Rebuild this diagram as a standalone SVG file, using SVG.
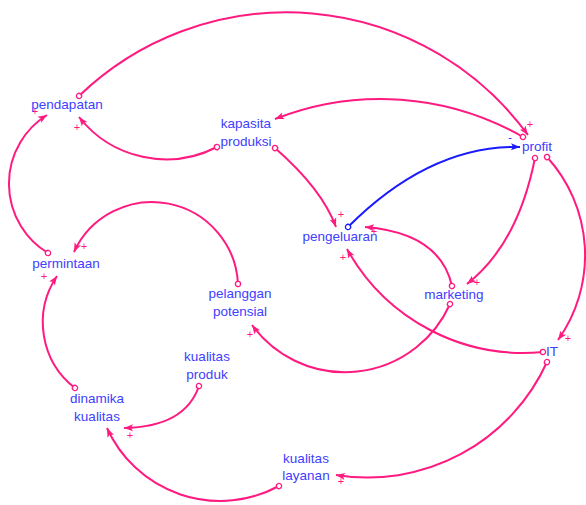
<svg xmlns="http://www.w3.org/2000/svg" width="586" height="505" viewBox="0 0 586 505">
<defs>
<marker id="ah" markerUnits="userSpaceOnUse" markerWidth="12" markerHeight="10" refX="9" refY="3.5" orient="auto" overflow="visible"><path d="M0,0 L9,3.5 L0,7 L2,3.5 Z" fill="#ff1a80"/></marker>
<marker id="ahb" markerUnits="userSpaceOnUse" markerWidth="12" markerHeight="10" refX="9" refY="3.5" orient="auto" overflow="visible"><path d="M0,0 L9,3.5 L0,7 L2,3.5 Z" fill="#1a1aff"/></marker>
<marker id="tc" markerUnits="userSpaceOnUse" markerWidth="8" markerHeight="8" refX="4" refY="4" orient="auto" overflow="visible"><circle cx="4" cy="4" r="2.6" fill="#fff" stroke="#ff1a80" stroke-width="1.3"/></marker>
<marker id="tcb" markerUnits="userSpaceOnUse" markerWidth="8" markerHeight="8" refX="4" refY="4" orient="auto" overflow="visible"><circle cx="4" cy="4" r="2.6" fill="#fff" stroke="#1a1aff" stroke-width="1.3"/></marker>
</defs>
<style>
.l{fill:none;stroke:#ff1a80;stroke-width:2;marker-start:url(#tc);marker-end:url(#ah)}
.b{fill:none;stroke:#1a1aff;stroke-width:2;marker-start:url(#tcb);marker-end:url(#ahb)}
.t{font-family:"Liberation Sans",Arial,sans-serif;font-size:13.5px;fill:#4040ff;text-anchor:middle}
.s{font-family:"Liberation Sans",Arial,sans-serif;font-size:11px;fill:#ff1a80;text-anchor:middle}
.sb{font-family:"Liberation Sans",Arial,sans-serif;font-size:11px;fill:#1a1aff;text-anchor:middle}
</style>
<g id="connectors">
<path class="l" d="M79,96 A299,299 0 0,1 528,135"/>
<path class="l" d="M523,137 A287,287 0 0,0 275,119"/>
<path class="l" d="M217,147 A111,111 0 0,1 79,117"/>
<path class="l" d="M48,253 A81,81 0 0,1 47,115"/>
<path class="l" d="M275,148 Q322,189 336,227"/>
<path class="b" d="M348,227 Q430,145 520,147"/>
<path class="l" d="M452,286 Q440,233 365,227"/>
<path class="l" d="M543,352 A202,202 0 0,1 347,249"/>
<path class="l" d="M535,158 Q518,244 467,284"/>
<path class="l" d="M547,157 A146,146 0 0,1 558,340"/>
<path class="l" d="M450,304 A115,115 0 0,1 252,325"/>
<path class="l" d="M238,284 A86,86 0 0,0 74,252"/>
<path class="l" d="M75,388 A83,83 0 0,1 57,276"/>
<path class="l" d="M199,386 Q185,427 124,428"/>
<path class="l" d="M279,486 A124,124 0 0,1 107,428"/>
<path class="l" d="M547,362 A197,197 0 0,1 336,475"/>
<text class="s" x="530" y="128">+</text>
<text class="sb" x="510" y="141">-</text>
<text class="s" x="77" y="131">+</text>
<text class="s" x="35" y="115">+</text>
<text class="s" x="341" y="218">+</text>
<text class="s" x="374" y="235">+</text>
<text class="s" x="343" y="261">+</text>
<text class="s" x="477" y="286">+</text>
<text class="s" x="568" y="342">+</text>
<text class="s" x="250" y="338">+</text>
<text class="s" x="84" y="250">+</text>
<text class="s" x="44" y="280">+</text>
<text class="s" x="130" y="439">+</text>
<text class="s" x="341" y="485">+</text>
</g>
<g id="pendapatan"><text class="t" x="67" y="109">pendapatan</text></g>
<g id="kapasita-produksi"><text class="t" x="246" y="128">kapasita</text><text class="t" x="246" y="146">produksi</text></g>
<g id="profit"><text class="t" x="537" y="151">profit</text></g>
<g id="pengeluaran"><text class="t" x="340" y="241">pengeluaran</text></g>
<g id="permintaan"><text class="t" x="66" y="268">permintaan</text></g>
<g id="pelanggan-potensial"><text class="t" x="240" y="298">pelanggan</text><text class="t" x="240" y="316">potensial</text></g>
<g id="marketing"><text class="t" x="454" y="299">marketing</text></g>
<g id="IT"><text class="t" x="552" y="356">IT</text></g>
<g id="kualitas-produk"><text class="t" x="207" y="361">kualitas</text><text class="t" x="207" y="379">produk</text></g>
<g id="dinamika-kualitas"><text class="t" x="97" y="403">dinamika</text><text class="t" x="97" y="421">kualitas</text></g>
<g id="kualitas-layanan"><text class="t" x="306" y="463">kualitas</text><text class="t" x="306" y="480">layanan</text></g>
</svg>
